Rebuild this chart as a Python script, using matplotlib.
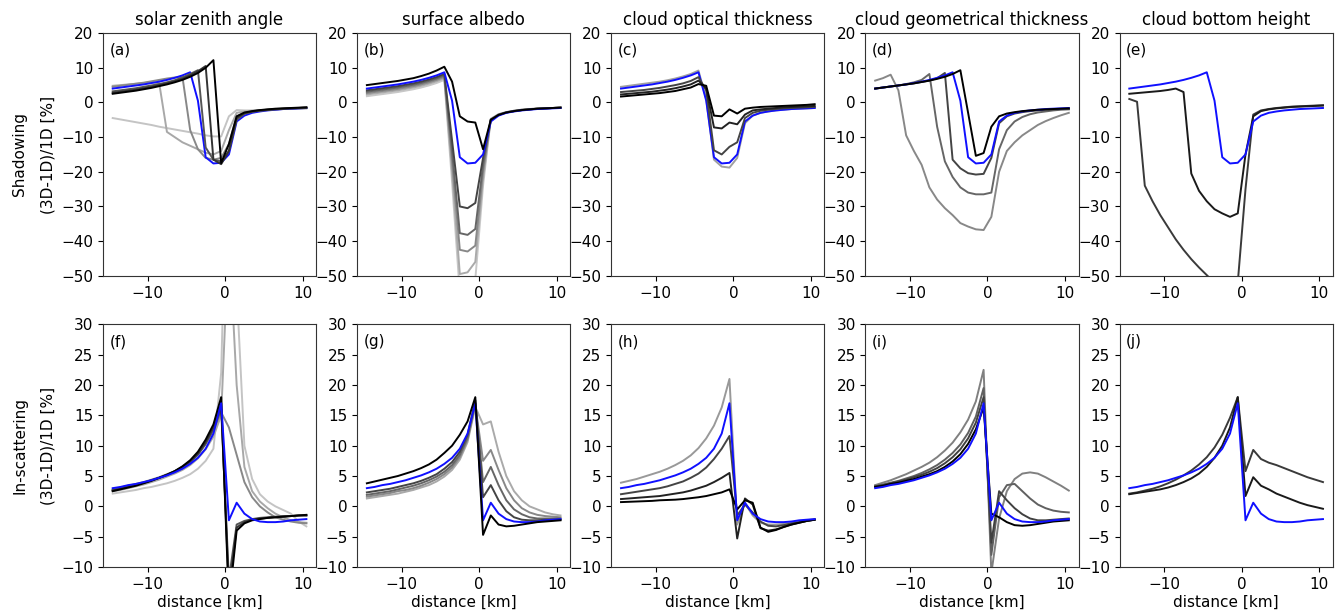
import numpy as np
import matplotlib
matplotlib.use("Agg")
import matplotlib.pyplot as plt

# distance grid [km], cell centres
x = np.arange(-14.5, 11.0, 1.0)

titles = ["solar zenith angle", "surface albedo", "cloud optical thickness",
          "cloud geometrical thickness", "cloud bottom height"]
tags_top = ["(a)", "(b)", "(c)", "(d)", "(e)"]
tags_bot = ["(f)", "(g)", "(h)", "(i)", "(j)"]

# reference case (blue) shadowing / in-scattering
ref_shd = [4.0, 4.3, 4.6, 4.9, 5.2, 5.6, 6.0, 6.5, 7.1, 7.8, 8.7, 0.5, -15.8, -17.6, -17.4,
           -15.0, -5.5, -3.8, -3.0, -2.6, -2.3, -2.1, -1.9, -1.8, -1.7, -1.6]
ref_ins = [3.0, 3.2, 3.5, 3.7, 4.0, 4.3, 4.7, 5.1, 5.6, 6.2, 7.0, 8.0, 9.5, 12.0, 17.0,
           -2.3, 0.6, -1.2, -2.1, -2.5, -2.6, -2.6, -2.5, -2.3, -2.2, -2.1]

# (a) solar zenith angle, shadowing
a_k1 = [2.5, 2.8, 3.1, 3.4, 3.8, 4.2, 4.7, 5.2, 5.8, 6.5, 7.4, 8.5, 10.0, 12.2, -17.5,
        -12.0, -4.0, -2.9, -2.5, -2.2, -2.0, -1.8, -1.7, -1.6, -1.5, -1.4]
a_k2 = [2.8, 3.1, 3.4, 3.7, 4.1, 4.5, 5.0, 5.5, 6.1, 6.8, 7.8, 9.0, 10.5, -16.5, -17.8,
        -14.0, -4.5, -3.1, -2.6, -2.3, -2.1, -1.9, -1.8, -1.7, -1.6, -1.5]
a_k3 = [3.2, 3.5, 3.8, 4.1, 4.5, 4.9, 5.3, 5.8, 6.4, 7.2, 8.2, 9.3, -13.0, -16.5, -17.0,
        -14.0, -5.0, -3.3, -2.7, -2.4, -2.2, -2.0, -1.8, -1.7, -1.6, -1.5]
a_g1 = [4.5, 4.8, 5.1, 5.4, 5.7, 6.1, 6.5, 6.9, 7.2, 7.4, -8.0, -13.5, -16.0, -16.5, -16.0,
        -12.0, -4.0, -3.0, -2.6, -2.3, -2.1, -2.0, -1.9, -1.8, -1.7, -1.6]
a_g2 = [4.8, 5.0, 5.2, 5.4, 5.6, 5.8, 5.6, -8.5, -10.0, -11.5, -12.5, -13.5, -14.5, -15.0, -14.0,
        -8.0, -3.0, -2.6, -2.4, -2.2, -2.1, -2.0, -1.9, -1.8, -1.7, -1.6]
a_g3 = [-4.5, -4.9, -5.3, -5.7, -6.1, -6.5, -7.0, -7.4, -7.8, -8.2, -8.6, -9.0, -9.5, -9.8, -9.8,
        -4.0, -2.2, -2.3, -2.3, -2.2, -2.1, -2.0, -1.9, -1.9, -1.8, -1.8]

# (b) surface albedo, shadowing
b_k = [5.0, 5.3, 5.6, 5.9, 6.2, 6.6, 7.0, 7.6, 8.3, 9.2, 10.3, 6.0, -4.0, -5.5, -5.8,
       -13.5, -5.0, -3.6, -2.9, -2.5, -2.2, -2.0, -1.8, -1.7, -1.6, -1.5]
b_g1 = [3.5, 3.8, 4.1, 4.4, 4.7, 5.1, 5.5, 6.0, 6.6, 7.3, 8.2, -11.0, -30.0, -30.5, -29.0,
        -16.0, -5.0, -3.6, -2.9, -2.5, -2.2, -2.0, -1.8, -1.7, -1.6, -1.5]
b_g2 = [3.1, 3.4, 3.7, 4.0, 4.3, 4.7, 5.1, 5.6, 6.2, 6.9, 7.8, -14.0, -37.7, -38.2, -36.5,
        -18.0, -5.0, -3.6, -2.9, -2.5, -2.2, -2.0, -1.8, -1.7, -1.6, -1.5]
b_g3 = [2.7, 3.0, 3.3, 3.6, 3.9, 4.3, 4.7, 5.2, 5.8, 6.5, 7.4, -17.0, -42.5, -43.0, -41.3,
        -20.0, -4.9, -3.5, -2.8, -2.4, -2.1, -1.9, -1.8, -1.7, -1.6, -1.5]
b_g4 = [2.3, 2.6, 2.9, 3.2, 3.5, 3.9, 4.3, 4.8, 5.4, 6.1, 7.0, -20.0, -49.5, -49.0, -46.0,
        -22.0, -4.8, -3.4, -2.8, -2.4, -2.1, -1.9, -1.8, -1.7, -1.6, -1.5]
b_g5 = [1.8, 2.1, 2.4, 2.7, 3.0, 3.4, 3.8, 4.3, 4.9, 5.6, 6.5, -23.0, -55.0, -54.0, -51.0,
        -24.0, -4.7, -3.4, -2.8, -2.4, -2.1, -1.9, -1.8, -1.7, -1.6, -1.5]

# (c) cloud optical thickness, shadowing
c_g = [4.5, 4.8, 5.1, 5.4, 5.7, 6.0, 6.4, 6.9, 7.5, 8.2, 9.2, 1.0, -16.5, -18.5, -18.8,
       -16.0, -6.0, -3.8, -3.0, -2.6, -2.3, -2.1, -1.9, -1.8, -1.7, -1.6]
c_d1 = [3.0, 3.2, 3.4, 3.6, 3.9, 4.2, 4.6, 5.0, 5.5, 6.2, 7.3, 3.5, -13.8, -15.0, -12.8,
        -11.5, -4.5, -3.0, -2.4, -2.1, -1.9, -1.7, -1.6, -1.5, -1.4, -1.3]
c_d2 = [2.3, 2.5, 2.7, 2.9, 3.1, 3.4, 3.7, 4.1, 4.6, 5.2, 6.3, 4.0, -7.2, -7.5, -5.8,
        -6.3, -3.5, -2.3, -2.0, -1.8, -1.6, -1.4, -1.3, -1.2, -1.1, -1.0]
c_k = [1.7, 1.9, 2.1, 2.3, 2.5, 2.7, 3.0, 3.3, 3.8, 4.3, 5.3, 4.8, -3.8, -4.0, -2.0,
       -3.2, -1.8, -1.5, -1.3, -1.2, -1.1, -1.0, -0.9, -0.8, -0.7, -0.5]

# (d) cloud geometrical thickness, shadowing
d_k = [4.0, 4.3, 4.6, 4.9, 5.2, 5.5, 5.9, 6.3, 6.8, 7.4, 8.2, 9.3, -3.0, -15.4, -14.6,
       -7.0, -4.0, -3.2, -2.8, -2.5, -2.3, -2.1, -2.0, -1.9, -1.8, -1.7]
d_g1 = [4.0, 4.3, 4.6, 4.9, 5.2, 5.5, 5.9, 6.3, 7.0, 8.5, -16.5, -19.0, -20.4, -20.8, -20.6,
        -16.0, -6.0, -4.0, -3.2, -2.8, -2.5, -2.3, -2.1, -2.0, -1.9, -1.9]
d_g2 = [4.0, 4.3, 4.6, 4.9, 5.3, 5.8, 6.5, 8.2, -7.0, -17.0, -21.5, -24.5, -26.0, -26.5, -26.5,
        -26.0, -13.5, -8.0, -5.5, -4.2, -3.4, -2.9, -2.6, -2.3, -2.1, -2.0]
d_g3 = [6.3, 7.0, 8.0, 3.5, -9.5, -14.0, -18.0, -24.5, -28.0, -30.5, -32.5, -34.8, -35.8, -36.6, -36.8,
        -33.0, -20.0, -14.0, -11.5, -9.5, -8.0, -6.5, -5.4, -4.5, -3.7, -3.0]

# (e) cloud bottom height, shadowing
e_k1 = [2.5, 2.7, 2.9, 3.1, 3.3, 3.6, 4.0, 3.0, -20.5, -25.5, -28.5, -30.8, -32.0, -33.0, -32.0,
        -15.0, -4.0, -2.5, -2.0, -1.7, -1.5, -1.3, -1.2, -1.1, -1.0, -0.9]
e_k2 = [1.0, 0.2, -24.0, -28.5, -32.5, -36.0, -39.5, -42.5, -45.2, -47.6, -49.8, -52.0, -53.5, -54.5, -52.0,
        -25.0, -3.5, -2.3, -1.9, -1.6, -1.4, -1.2, -1.1, -1.0, -0.9, -0.8]

# (f) solar zenith angle, in-scattering
f_k1 = [2.5, 2.8, 3.1, 3.4, 3.8, 4.2, 4.7, 5.2, 5.8, 6.6, 7.6, 9.0, 11.0, 13.5, 18.0,
        -16.0, -4.0, -2.8, -2.3, -2.1, -1.9, -1.8, -1.7, -1.6, -1.5, -1.4]
f_k2 = [2.6, 2.9, 3.2, 3.5, 3.9, 4.3, 4.7, 5.2, 5.8, 6.5, 7.4, 8.7, 10.6, 13.0, 17.0,
        -14.0, -3.5, -2.6, -2.2, -2.0, -1.9, -1.8, -1.7, -1.6, -1.5, -1.5]
f_k3 = [2.7, 3.0, 3.3, 3.6, 3.9, 4.3, 4.7, 5.2, 5.7, 6.4, 7.3, 8.5, 10.3, 12.7, 16.0,
        -12.0, -3.0, -2.4, -2.1, -1.9, -1.8, -1.7, -1.6, -1.6, -1.5, -1.5]
f_g1 = [2.8, 3.1, 3.4, 3.7, 4.0, 4.4, 4.8, 5.3, 5.8, 6.5, 7.4, 8.6, 10.3, 12.5, 15.5,
        13.0, 8.5, 4.0, 1.5, 0.0, -1.0, -1.8, -2.2, -2.5, -2.7, -2.8]
f_g2 = [2.5, 2.7, 3.0, 3.3, 3.6, 4.0, 4.4, 4.9, 5.4, 6.0, 6.8, 7.9, 9.4, 11.5, 15.0,
        45.0, 20.0, 6.5, 2.5, 0.8, -0.3, -1.2, -1.8, -2.3, -2.6, -2.7]
f_g3 = [2.1, 2.3, 2.5, 2.7, 3.0, 3.2, 3.5, 3.8, 4.2, 4.7, 5.3, 6.2, 7.5, 9.5, 22.0,
        70.0, 36.0, 10.0, 4.5, 2.0, 0.8, 0.0, -0.6, -1.2, -2.5, -3.3]

# (g) surface albedo, in-scattering
g_k = [3.8, 4.1, 4.4, 4.7, 5.0, 5.4, 5.8, 6.3, 6.9, 7.7, 8.8, 10.0, 11.8, 14.0, 18.0,
       -4.7, -1.5, -3.0, -3.3, -3.2, -3.0, -2.8, -2.6, -2.5, -2.4, -2.3]
g_g1 = [2.3, 2.5, 2.7, 2.9, 3.2, 3.5, 3.8, 4.2, 4.7, 5.3, 6.2, 7.3, 9.0, 11.8, 17.5,
        1.5, 3.5, 1.0, -0.8, -1.8, -2.2, -2.3, -2.3, -2.2, -2.2, -2.2]
g_g2 = [1.9, 2.1, 2.3, 2.5, 2.8, 3.1, 3.4, 3.8, 4.3, 4.9, 5.7, 6.8, 8.5, 11.3, 17.0,
        4.0, 6.5, 3.5, 1.0, -0.5, -1.3, -1.8, -2.0, -2.0, -2.0, -2.0]
g_g3 = [1.6, 1.8, 2.0, 2.2, 2.5, 2.7, 3.0, 3.4, 3.9, 4.5, 5.3, 6.4, 8.1, 11.0, 16.7,
        7.5, 9.3, 6.0, 3.0, 1.0, -0.3, -1.0, -1.4, -1.6, -1.7, -1.8]
g_g4 = [1.3, 1.5, 1.7, 1.9, 2.1, 2.4, 2.7, 3.1, 3.5, 4.1, 4.9, 6.0, 7.7, 10.6, 16.4,
        13.5, 14.0, 9.0, 5.0, 2.5, 1.0, 0.0, -0.5, -1.0, -1.3, -1.5]

# (h) cloud optical thickness, in-scattering
h_g = [3.9, 4.2, 4.5, 4.9, 5.3, 5.7, 6.2, 6.8, 7.5, 8.4, 9.6, 11.2, 13.3, 16.3, 21.0,
       -3.0, 0.5, -1.5, -2.7, -3.0, -3.0, -2.9, -2.7, -2.5, -2.3, -2.1]
h_d = [2.0, 2.2, 2.4, 2.6, 2.8, 3.0, 3.3, 3.7, 4.1, 4.7, 5.4, 6.4, 7.8, 9.5, 11.6,
       -1.5, 0.3, -1.0, -2.5, -3.2, -3.3, -3.1, -2.8, -2.6, -2.4, -2.2]
h_k1 = [1.2, 1.3, 1.4, 1.5, 1.6, 1.7, 1.9, 2.1, 2.3, 2.6, 3.0, 3.4, 4.0, 4.7, 5.5,
        -5.3, 1.3, 0.3, -3.6, -4.0, -3.8, -3.4, -3.0, -2.7, -2.4, -2.2]
h_k2 = [0.7, 0.75, 0.8, 0.85, 0.9, 1.0, 1.05, 1.1, 1.2, 1.35, 1.5, 1.7, 2.0, 2.3, 2.8,
        -0.5, 1.0, 0.6, -3.5, -4.2, -3.9, -3.4, -3.0, -2.7, -2.4, -2.2]

# (i) cloud geometrical thickness, in-scattering
i_k = [3.2, 3.4, 3.7, 3.9, 4.2, 4.5, 4.9, 5.3, 5.8, 6.5, 7.4, 8.6, 10.3, 12.7, 16.3,
       -1.2, -1.8, -2.6, -3.1, -3.2, -3.1, -2.9, -2.7, -2.5, -2.4, -2.3]
i_g1 = [3.3, 3.5, 3.8, 4.1, 4.4, 4.8, 5.2, 5.7, 6.3, 7.1, 8.1, 9.4, 11.2, 13.8, 18.0,
        -6.0, 2.5, 1.0, -0.3, -1.3, -2.0, -2.3, -2.3, -2.2, -2.1, -2.0]
i_g2 = [3.3, 3.6, 3.9, 4.2, 4.6, 5.0, 5.5, 6.1, 6.8, 7.7, 8.8, 10.2, 12.1, 14.8, 19.5,
        -8.0, 1.5, 3.5, 3.7, 2.5, 1.3, 0.3, -0.3, -0.7, -0.9, -1.0]
i_g3 = [3.5, 3.9, 4.3, 4.8, 5.3, 5.9, 6.5, 7.2, 8.1, 9.2, 10.5, 12.2, 14.3, 17.3, 22.5,
        -11.0, -2.0, 2.5, 4.5, 5.4, 5.6, 5.4, 4.8, 4.1, 3.4, 2.6]

# (j) cloud bottom height, in-scattering
j_k1 = [2.0, 2.2, 2.4, 2.6, 2.8, 3.1, 3.5, 4.0, 4.6, 5.4, 6.5, 8.0, 10.0, 13.0, 18.0,
        1.7, 4.8, 3.4, 2.8, 2.1, 1.6, 1.1, 0.6, 0.2, -0.1, -0.4]
j_k2 = [2.1, 2.3, 2.6, 2.9, 3.3, 3.8, 4.4, 5.1, 5.9, 6.9, 8.1, 9.7, 11.8, 14.6, 18.0,
        5.8, 9.3, 7.8, 7.2, 6.8, 6.3, 5.8, 5.3, 4.8, 4.4, 4.0]

BLUE = "#1010ff"
top_lines = [
    [(a_g3, "#c4c4c4"), (a_g2, "#a8a8a8"), (a_g1, "#888888"), (ref_shd, BLUE),
     (a_k3, "#555555"), (a_k2, "#333333"), (a_k1, "#000000")],
    [(b_g5, "#c8c8c8"), (b_g4, "#aaaaaa"), (b_g3, "#888888"), (b_g2, "#666666"),
     (b_g1, "#444444"), (ref_shd, BLUE), (b_k, "#000000")],
    [(c_g, "#a0a0a0"), (ref_shd, BLUE), (c_d1, "#444444"), (c_d2, "#222222"), (c_k, "#000000")],
    [(d_g3, "#888888"), (d_g2, "#666666"), (d_g1, "#444444"), (ref_shd, BLUE), (d_k, "#000000")],
    [(e_k2, "#3a3a3a"), (e_k1, "#1a1a1a"), (ref_shd, BLUE)],
]
bot_lines = [
    [(f_g3, "#c4c4c4"), (f_g2, "#a8a8a8"), (f_g1, "#888888"), (f_k3, "#555555"),
     (f_k2, "#333333"), (f_k1, "#000000"), (ref_ins, BLUE)],
    [(g_g4, "#aaaaaa"), (g_g3, "#888888"), (g_g2, "#666666"), (g_g1, "#444444"),
     (ref_ins, BLUE), (g_k, "#000000")],
    [(h_g, "#999999"), (h_d, "#444444"), (h_k1, "#222222"), (h_k2, "#000000"), (ref_ins, BLUE)],
    [(i_g3, "#808080"), (i_g2, "#606060"), (i_g1, "#404040"), (i_k, "#000000"), (ref_ins, BLUE)],
    [(j_k2, "#3a3a3a"), (j_k1, "#1a1a1a"), (ref_ins, BLUE)],
]

plt.rcParams["font.family"] = "DejaVu Sans"
fig, axes = plt.subplots(2, 5, figsize=(13.38, 6.13), dpi=100)
fig.subplots_adjust(left=0.077, right=0.996, top=0.946, bottom=0.075, wspace=0.193, hspace=0.2)

for j in range(5):
    ax = axes[0, j]
    for y, c in top_lines[j]:
        ax.plot(x, y, color=c, lw=1.4)
    ax.set_ylim(-50, 20)
    ax.set_yticks(np.arange(-50, 21, 10))
    ax.set_title(titles[j], fontsize=12, pad=6)
    ax.text(0.03, 0.96, tags_top[j], transform=ax.transAxes, va="top", ha="left", fontsize=11)

    ax = axes[1, j]
    for y, c in bot_lines[j]:
        ax.plot(x, y, color=c, lw=1.4)
    ax.set_ylim(-10, 30)
    ax.set_yticks(np.arange(-10, 31, 5))
    ax.set_xlabel("distance [km]", fontsize=11, labelpad=2)
    ax.text(0.03, 0.96, tags_bot[j], transform=ax.transAxes, va="top", ha="left", fontsize=11)

for ax in axes.flat:
    ax.set_xticks([-10, 0, 10])
    ax.tick_params(labelsize=11)
    for s in ax.spines.values():
        s.set_color("#333333")

axes[0, 0].set_ylabel("Shadowing\n(3D-1D)/1D [%]", fontsize=11, linespacing=2.1)
axes[1, 0].set_ylabel("In-scattering\n(3D-1D)/1D [%]", fontsize=11, linespacing=2.1)

fig.savefig("out.png", dpi=100)
